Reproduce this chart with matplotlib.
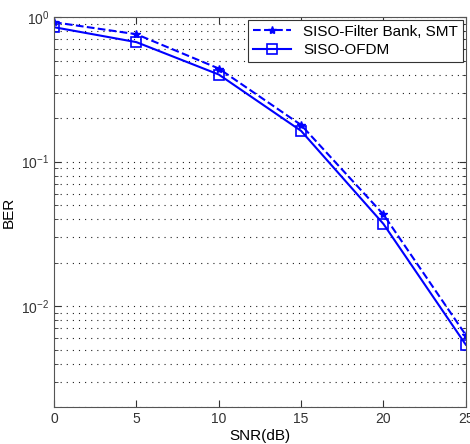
import matplotlib
matplotlib.use('Agg')
import matplotlib.pyplot as plt
from matplotlib.ticker import LogLocator, NullFormatter

plt.rcParams['font.family'] = ['Liberation Sans', 'DejaVu Sans']
plt.rcParams['mathtext.fontset'] = 'custom'
plt.rcParams['mathtext.rm'] = 'Liberation Sans'
plt.rcParams['mathtext.it'] = 'Liberation Sans'

# Data
snr = [0, 5, 10, 15, 20, 25]
ber_smt = [0.92, 0.76, 0.44, 0.179, 0.043, 0.0063]
ber_ofdm = [0.85, 0.67, 0.40, 0.163, 0.037, 0.0054]
labels = ['SISO-Filter Bank, SMT', 'SISO-OFDM']

fig = plt.figure(figsize=(4.7, 4.44), dpi=100)
ax = fig.add_axes([0.115, 0.0833, 0.876, 0.8784])

ax.semilogy(snr, ber_smt, '--', color='#0000ff', marker='*', markersize=6,
            linewidth=1.5, label=labels[0])
ax.semilogy(snr, ber_ofdm, '-', color='#0000ff', marker='s', markersize=6.5,
            markerfacecolor='none', markeredgewidth=1.2, linewidth=1.5, label=labels[1])

ax.set_xlim(0, 25)
ax.set_ylim(0.002, 1)
ax.set_xticks(snr)
ax.yaxis.set_major_locator(LogLocator(base=10, numticks=10))
ax.yaxis.set_minor_locator(LogLocator(base=10, subs=range(2, 10), numticks=20))
ax.yaxis.set_minor_formatter(NullFormatter())

ax.grid(True, axis='y', which='both', linestyle=(0, (1, 4.5)), color='#222222', linewidth=0.8)
ax.tick_params(which='both', direction='in', top=True, right=True, labelsize=10, colors='#333333')
ax.tick_params(which='major', length=5)
ax.tick_params(which='minor', length=3)
for s in ax.spines.values():
    s.set_color('#555555')

ax.set_xlabel('SNR(dB)', fontsize=11, labelpad=2)
ax.set_ylabel('BER', fontsize=11)

leg = ax.legend(loc='upper right', fontsize=11, fancybox=False, framealpha=1,
                edgecolor='#333333', borderaxespad=0.2, handlelength=2.5,
                borderpad=0.3, labelspacing=0.3)
leg.get_frame().set_linewidth(0.8)

fig.savefig('out.png', dpi=100)
